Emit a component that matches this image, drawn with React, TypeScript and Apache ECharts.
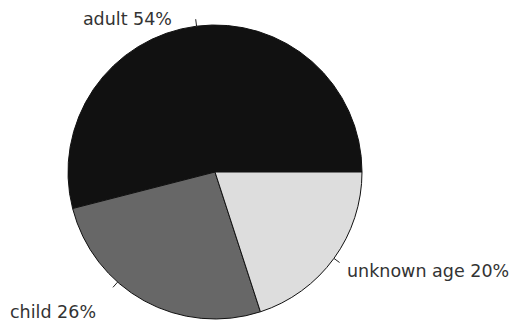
import React, { useEffect, useRef } from "react";
import * as echarts from "echarts";

const categories = ["adult", "child", "unknown age"];
const percents = [54, 26, 20];
const sliceColors = ["#111111", "#676767", "#dddddd"];

// label placement (pixel layout, not data)
const CX = 215;
const CY = 172;
const R = 147;
const TICK = 7;
const tickAngles = [97.2, 228.5, 324]; // degrees, math orientation
const labelPos = [
  { x: 172, y: 19, align: "right" },
  { x: 10, y: 312, align: "left" },
  { x: 347, y: 271, align: "left" },
];

export default function App() {
  const ref = useRef<HTMLDivElement>(null);
  useEffect(() => {
    if (!ref.current) return;
    const chart = echarts.init(ref.current, null, { renderer: "svg" });
    const data = categories.map((c, i) => ({
      name: c,
      value: percents[i],
      itemStyle: { color: sliceColors[i] },
    }));
    chart.setOption({
      animation: false,
      backgroundColor: "#ffffff",
      series: [
        {
          type: "pie",
          center: [CX, CY],
          radius: R,
          startAngle: 0,
          clockwise: false,
          data,
          itemStyle: { borderColor: "#111", borderWidth: 1 },
          emphasis: { disabled: true },
          label: {
            show: true,
            position: "outside",
            overflow: "none",
            formatter: (p: any) => `${p.name} ${p.value}%`,
            fontFamily: "DejaVu Sans",
            fontSize: 17.5,
            color: "#333",
          },
          labelLine: {
            show: true,
            length: TICK,
            length2: 0,
            lineStyle: { color: "#222", width: 1 },
          },
          labelLayout: (params: any) => {
            const i = params.dataIndex;
            const a = (tickAngles[i] * Math.PI) / 180;
            const p1 = [CX + R * Math.cos(a), CY - R * Math.sin(a)];
            const p2 = [CX + (R + TICK) * Math.cos(a), CY - (R + TICK) * Math.sin(a)];
            return {
              x: labelPos[i].x,
              y: labelPos[i].y,
              align: labelPos[i].align,
              verticalAlign: "middle",
              labelLinePoints: [p1, p2, p2],
            };
          },
        },
      ],
    });
    return () => chart.dispose();
  }, []);
  return (
    <div
      ref={ref}
      style={{ position: "absolute", left: 0, top: 0, width: 516, height: 327 }}
    />
  );
}
